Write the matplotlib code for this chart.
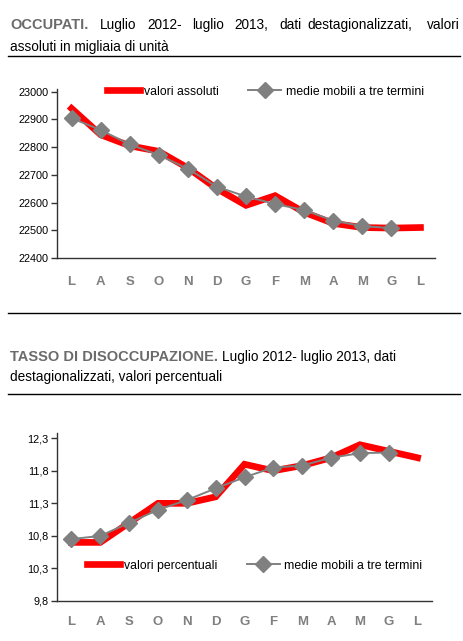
import numpy as np
import matplotlib

matplotlib.use('Agg')
import matplotlib.pyplot as plt
from matplotlib.ticker import FixedLocator, FuncFormatter

plt.rcParams['font.family'] = ['Liberation Sans', 'DejaVu Sans']

# Data
months = ['L', 'A', 'S', 'O', 'N', 'D', 'G', 'F', 'M', 'A', 'M', 'G', 'L']
occupati = [22940, 22845, 22805, 22785, 22725, 22650, 22590, 22625, 22565, 22525, 22510, 22508, 22510]
occupati_mm = [22905, 22862, 22810, 22772, 22722, 22657, 22622, 22595, 22573, 22535, 22515, 22508]
disocc = [10.7, 10.7, 11.0, 11.3, 11.3, 11.4, 11.9, 11.8, 11.88, 12.0, 12.2, 12.1, 12.0]
disocc_mm = [10.75, 10.8, 11.0, 11.2, 11.35, 11.53, 11.7, 11.85, 11.88, 12.0, 12.07, 12.08]
occ_ticks = [22400, 22500, 22600, 22700, 22800, 22900, 23000]
dis_ticks = [9.8, 10.3, 10.8, 11.3, 11.8, 12.3]

W, H = 464, 641
fig = plt.figure(figsize=(W / 100, H / 100), dpi=100)

RED = '#ff0000'
GREY = '#808080'
TITLE_GREY = '#6b6b6b'


def px_axes(x0, y0, x1, y1):
    return fig.add_axes([x0 / W, 1 - y1 / H, (x1 - x0) / W, (y1 - y0) / H])


def hline(y, x0=8, x1=460):
    fig.add_artist(plt.Line2D([x0 / W, x1 / W], [1 - y / H, 1 - y / H], color='black', lw=1.0))


def style_axes(ax, ticks, fmt, pad):
    for s in ['top', 'right']:
        ax.spines[s].set_visible(False)
    for s in ['left', 'bottom']:
        ax.spines[s].set_color('#333333')
        ax.spines[s].set_linewidth(1.0)
    ax.set_xlim(-0.5, len(months) - 0.5)
    ax.set_xticks(np.arange(len(months)))
    ax.set_xticklabels(months, fontsize=9.5, fontweight='bold', color=GREY)
    ax.tick_params(axis='x', length=0, pad=pad)
    ax.yaxis.set_major_locator(FixedLocator(ticks))
    ax.yaxis.set_major_formatter(FuncFormatter(fmt))
    ax.tick_params(axis='y', length=4, width=1.0, color='#333333', labelsize=7.8, pad=2)


def add_legend(ax, labels, x, y):
    ax.legend(labels, loc='center left', bbox_to_anchor=(x, y), ncol=2, frameon=False,
              fontsize=8.8, handlelength=2.7, handletextpad=0.35, columnspacing=2.4,
              borderpad=0, borderaxespad=0)


fig_r = fig.canvas.get_renderer()

# Top chart: OCCUPATI
fig.text(10 / W, 1 - 25 / H, 'OCCUPATI.', fontsize=10.5, fontweight='bold', color=TITLE_GREY, va='center')
words = [('Luglio', 100), ('2012-', 147), ('luglio', 192), ('2013,', 234), ('dati', 279),
         ('destagionalizzati,', 307), ('valori', 427)]
for w, xw in words:
    fig.text(xw / W, 1 - 25 / H, w, fontsize=9.8, va='center')
fig.text(10 / W, 1 - 47 / H, 'assoluti in migliaia di unità', fontsize=9.8, va='center')
hline(56)

ax1 = px_axes(57, 89, 435, 258)
x = np.arange(len(months))
ax1.plot(x, occupati, color=RED, lw=4.8, solid_joinstyle='miter')
ax1.plot(x[:len(occupati_mm)], occupati_mm, color=GREY, lw=1.4, marker='D', ms=8,
         markerfacecolor=GREY, markeredgecolor=GREY)
ax1.set_ylim(22400, 23010)
style_axes(ax1, occ_ticks, lambda v, p: '%d' % v, 13)
add_legend(ax1, ['valori assoluti', 'medie mobili a tre termini'], 0.132, 0.985)

hline(313)

# Bottom chart: TASSO DI DISOCCUPAZIONE
t2 = fig.text(10 / W, 1 - 357 / H, 'TASSO DI DISOCCUPAZIONE.', fontsize=10.5, fontweight='bold',
              color=TITLE_GREY, va='center')
bb = t2.get_window_extent(renderer=fig_r)
fig.text((bb.x1 + 4) / W, 1 - 357 / H, 'Luglio 2012- luglio 2013, dati', fontsize=9.8, va='center')
fig.text(10 / W, 1 - 377 / H, 'destagionalizzati, valori percentuali', fontsize=9.8, va='center')
hline(394)

ax2 = px_axes(57, 433, 432, 601)
ax2.plot(x, disocc, color=RED, lw=4.8, solid_joinstyle='miter')
ax2.plot(x[:len(disocc_mm)], disocc_mm, color=GREY, lw=1.4, marker='D', ms=8,
         markerfacecolor=GREY, markeredgecolor=GREY)
ax2.set_ylim(9.8, 12.38)
style_axes(ax2, dis_ticks, lambda v, p: ('%.1f' % v).replace('.', ','), 11)
add_legend(ax2, ['valori percentuali', 'medie mobili a tre termini'], 0.08, 0.21)

plt.savefig('out.png', dpi=100)
